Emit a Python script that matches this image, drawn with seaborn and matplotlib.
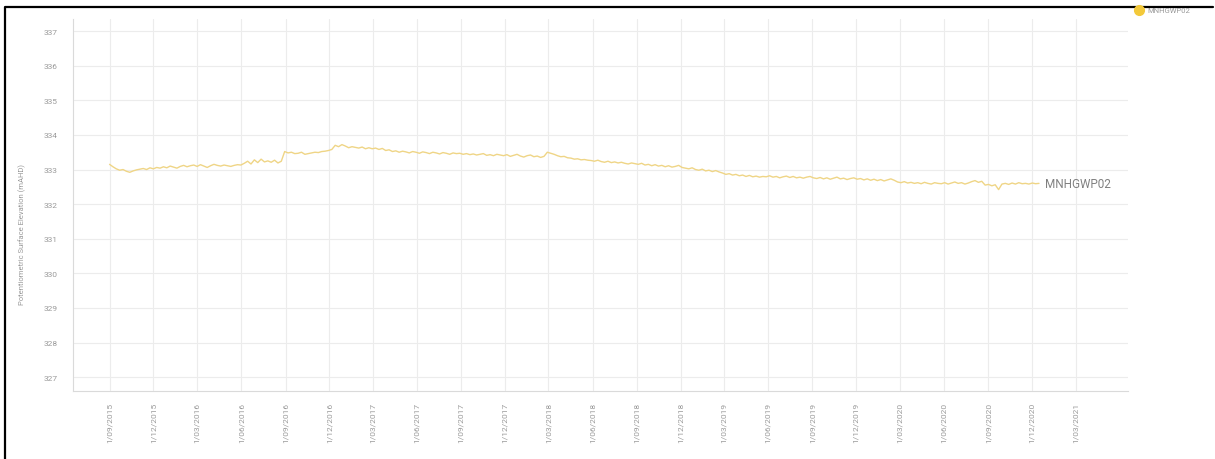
import pandas as pd
import numpy as np
import matplotlib
matplotlib.use("Agg")
import matplotlib.pyplot as plt
import matplotlib.dates as mdates
from matplotlib.lines import Line2D
import seaborn as sns

# ===========================================
# Data (weekly readings)
# ===========================================
series_name = "MNHGWP02"
start_date = "2015-09-01"
elevation = [
    333.15, 333.08, 333.02, 332.98, 333.00, 332.95, 332.92, 332.96, 332.99, 333.01, 333.03, 333.00, 333.05,
    333.02, 333.06, 333.04, 333.08, 333.05, 333.10, 333.07, 333.04, 333.09, 333.12, 333.08, 333.11, 333.13,
    333.09, 333.14, 333.10, 333.06, 333.11, 333.15, 333.12, 333.10, 333.13, 333.11, 333.09, 333.12, 333.14,
    333.13, 333.18, 333.24, 333.16, 333.28, 333.20, 333.30, 333.22, 333.25, 333.21, 333.27, 333.19, 333.24,
    333.52, 333.48, 333.50, 333.46, 333.47, 333.50, 333.44, 333.46, 333.48, 333.50, 333.49, 333.52, 333.53,
    333.55, 333.58, 333.70, 333.66, 333.72, 333.68, 333.63, 333.66, 333.64, 333.62, 333.65, 333.60, 333.63,
    333.60, 333.62, 333.58, 333.61, 333.55, 333.57, 333.52, 333.54, 333.50, 333.53, 333.51, 333.48, 333.52,
    333.50, 333.47, 333.51, 333.49, 333.46, 333.50, 333.48, 333.45, 333.49, 333.47, 333.44, 333.48, 333.46,
    333.47, 333.44, 333.46, 333.43, 333.45, 333.42, 333.44, 333.46, 333.41, 333.43, 333.40, 333.44, 333.42,
    333.40, 333.43, 333.38, 333.41, 333.44, 333.39, 333.36, 333.40, 333.42, 333.37, 333.39, 333.35, 333.38,
    333.50, 333.47, 333.44, 333.40, 333.37, 333.38, 333.34, 333.33, 333.30, 333.31, 333.28, 333.29, 333.27,
    333.26, 333.24, 333.27, 333.23, 333.21, 333.24, 333.20, 333.22, 333.19, 333.21, 333.18, 333.16, 333.19,
    333.17, 333.15, 333.18, 333.13, 333.15, 333.11, 333.14, 333.10, 333.12, 333.08, 333.11, 333.07, 333.09,
    333.12, 333.06, 333.04, 333.02, 333.05, 333.00, 332.98, 333.01, 332.96, 332.98, 332.94, 332.97, 332.93,
    332.90, 332.86, 332.88, 332.84, 332.86, 332.82, 332.84, 332.80, 332.83, 332.79, 332.81, 332.78, 332.80,
    332.79, 332.82, 332.78, 332.80, 332.76, 332.79, 332.81, 332.77, 332.80, 332.76, 332.78, 332.75, 332.78,
    332.80, 332.76, 332.74, 332.77, 332.73, 332.76, 332.72, 332.75, 332.78, 332.73, 332.75, 332.71, 332.74,
    332.76, 332.72, 332.74, 332.70, 332.73, 332.69, 332.72, 332.68, 332.71, 332.67, 332.70, 332.73, 332.69,
    332.64, 332.62, 332.65, 332.61, 332.63, 332.60, 332.62, 332.59, 332.63, 332.60, 332.58, 332.62, 332.60,
    332.59, 332.62, 332.58, 332.61, 332.64, 332.60, 332.62, 332.58, 332.61, 332.65, 332.68, 332.63, 332.66,
    332.55, 332.57, 332.53, 332.56, 332.42, 332.58, 332.60, 332.57, 332.61, 332.58, 332.62, 332.59, 332.60,
    332.58, 332.61, 332.59, 332.60,
]
y_ticks = list(range(327, 338))
x_tick_dates = pd.date_range("2015-09-01", "2021-03-01", freq="QS-MAR")
x_range = ("2015-06-17", "2021-06-18")
y_range = (326.6, 337.35)

df = pd.DataFrame({
    "Date": pd.date_range(start_date, periods=len(elevation), freq="7D"),
    "Elevation": elevation,
})

# ===========================================
# Plot
# ===========================================
sns.set_theme(style="white")
plt.rcParams['font.family'] = ['Roboto', 'DejaVu Sans']

line_col = "#EFD586"
grid_col = "#ECECEC"
text_col = "#9A9A9A"

fig = plt.figure(figsize=(12.15, 4.6), dpi=100)
ax = fig.add_axes([73/1215, 1 - 392/460, (1128 - 73)/1215, (392 - 20)/460])

sns.lineplot(data=df, x="Date", y="Elevation", ax=ax, color=line_col, linewidth=1.0)

ax.set_xlim(pd.Timestamp(x_range[0]), pd.Timestamp(x_range[1]))
ax.set_ylim(*y_range)
ax.set_yticks(y_ticks)
ax.set_xticks(x_tick_dates)
ax.xaxis.set_major_formatter(mdates.DateFormatter("%-d/%m/%Y"))

ax.grid(True, color=grid_col, linewidth=0.8)
ax.set_axisbelow(True)
for side in ["top", "right"]:
    ax.spines[side].set_visible(False)
for side in ["left", "bottom"]:
    ax.spines[side].set_color("#DADADA")
    ax.spines[side].set_linewidth(0.8)

ax.tick_params(axis="x", labelrotation=90, labelsize=6, colors=text_col,
               length=7, width=0.8, color=grid_col, pad=1)
ax.tick_params(axis="y", labelsize=6, colors=text_col, length=0, pad=11)
ax.set_xlabel("")
ax.set_ylabel("Potentiometric Surface Elevation (mAHD)", fontsize=5.5, color=text_col)
ax.yaxis.set_label_coords((26 - 73) / 1055, (392 - 235) / 372)

# series label at the end of the line
ax.annotate(series_name, xy=(df["Date"].iloc[-1], df["Elevation"].iloc[-1]),
            xytext=(4, 0), textcoords="offset points", va="center", ha="left",
            fontsize=8.5, color="#808080")

# legend (top right)
handle = Line2D([], [], marker="o", linestyle="", markersize=7,
                markerfacecolor="#F3C93A", markeredgecolor="#F3C93A")
fig.legend([handle], [series_name], loc="center left",
           bbox_to_anchor=(1128/1215, 1 - 11/460), frameon=False,
           fontsize=5.5, labelcolor=text_col, handletextpad=0.1, borderaxespad=0)

# black frame lines (top and left edge of the panel)
fig.add_artist(Line2D([5/1215, 5/1215, 1213/1215], [0, 1 - 8/460, 1 - 8/460],
                      transform=fig.transFigure, color="black", linewidth=1.6))

fig.savefig("out.png", dpi=100)
